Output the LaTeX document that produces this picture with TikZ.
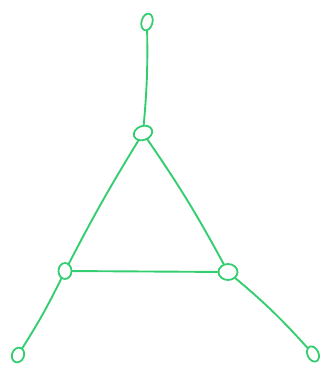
\documentclass[tikz,border=0pt]{standalone}
\usetikzlibrary{shapes.geometric}
\definecolor{penGreen}{RGB}{52,206,112}
\tikzset{
  knot/.style={ellipse, draw=penGreen, line width=1.8pt, inner sep=0pt},
  strand/.style={penGreen, line width=1.9pt, line cap=round}
}
\begin{document}
\begin{tikzpicture}[x=1pt,y=-1pt]
\useasboundingbox (0,0) rectangle (324,372);
\node[knot, minimum width=11pt, minimum height=17pt, rotate=-15] (apex) at (147,22) {};
\node[knot, minimum width=19pt, minimum height=14pt, rotate=20] (hub) at (143,133) {};
\node[knot, minimum width=13pt, minimum height=16pt] (west) at (65,271) {};
\node[knot, minimum width=19pt, minimum height=16pt] (east) at (228,272) {};
\node[knot, minimum width=12pt, minimum height=15pt, rotate=-20] (foot1) at (18,355) {};
\node[knot, minimum width=11pt, minimum height=16pt, rotate=25] (foot2) at (313,354) {};
\draw[strand] (apex) to[bend left=3] (hub);
\draw[strand] (hub) to[bend right=2] (west);
\draw[strand] (hub) to[bend left=3] (east);
\draw[strand] (west) -- (east);
\draw[strand] (west) to[bend left=3] (foot1);
\draw[strand] (east) to[bend left=4] (foot2);
\end{tikzpicture}
\end{document}
